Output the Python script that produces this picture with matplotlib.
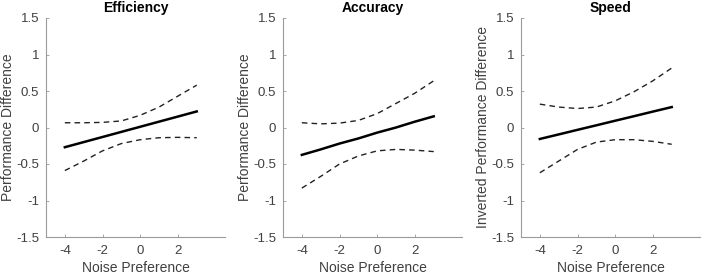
import matplotlib
matplotlib.use("Agg")
import matplotlib.pyplot as plt

x = [-4, -3, -2, -1, 0, 1, 2, 3]

titles = ["Efficiency", "Accuracy", "Speed"]
ylabels = ["Performance Difference", "Performance Difference", "Inverted Performance Difference"]

eff_fit = [-0.27, -0.20, -0.13, -0.06, 0.01, 0.08, 0.15, 0.22]
eff_upper = [0.065, 0.065, 0.07, 0.09, 0.167, 0.28, 0.43, 0.58]
eff_lower = [-0.59, -0.46, -0.32, -0.22, -0.167, -0.14, -0.135, -0.14]

acc_fit = [-0.375, -0.30, -0.22, -0.15, -0.07, 0.00, 0.08, 0.153]
acc_upper = [0.065, 0.05, 0.06, 0.097, 0.19, 0.33, 0.47, 0.64]
acc_lower = [-0.83, -0.67, -0.50, -0.39, -0.32, -0.30, -0.31, -0.33]

spd_fit = [-0.157, -0.095, -0.032, 0.03, 0.093, 0.155, 0.218, 0.28]
spd_upper = [0.32, 0.28, 0.26, 0.28, 0.365, 0.49, 0.64, 0.815]
spd_lower = [-0.62, -0.46, -0.30, -0.20, -0.167, -0.167, -0.19, -0.23]

fits = [eff_fit, acc_fit, spd_fit]
uppers = [eff_upper, acc_upper, spd_upper]
lowers = [eff_lower, acc_lower, spd_lower]

xticks = [-4, -2, 0, 2]
yticks = [-1.5, -1, -0.5, 0, 0.5, 1, 1.5]
yticklabels = ["-1.5", "-1", "-0.5", "0", "0.5", "1", "1.5"]

plt.rcParams['font.family'] = ['Liberation Sans', 'DejaVu Sans']

fig = plt.figure(figsize=(7.04, 2.76), dpi=100)
lefts = [46, 283, 521]
axis_col = "#9a9a9a"
text_col = "#404040"
for i in range(3):
    ax = fig.add_axes([lefts[i] / 704, 39 / 276, 179 / 704, 219 / 276])
    ax.plot(x, fits[i], color="black", lw=1.8)
    ax.plot(x, uppers[i], color="#222222", lw=1.0, ls=(0, (4, 3)))
    ax.plot(x, lowers[i], color="#222222", lw=1.0, ls=(0, (4, 3)))
    ax.set_xlim(-5, 4.5)
    ax.set_ylim(-1.5, 1.5)
    ax.set_xticks(xticks)
    ax.set_xticklabels([str(t) for t in xticks])
    ax.set_yticks(yticks)
    ax.set_yticklabels(yticklabels)
    for s in ["top", "right"]:
        ax.spines[s].set_visible(False)
    for s in ["left", "bottom"]:
        ax.spines[s].set_color(axis_col)
        ax.spines[s].set_linewidth(0.8)
    ax.tick_params(direction="in", length=2.5, width=0.6, color=axis_col,
                   labelcolor=text_col, labelsize=9.5)
    ax.tick_params(axis="x", pad=6)
    ax.tick_params(axis="y", pad=5)
    ax.set_xlabel("Noise Preference", fontsize=10, color=text_col, labelpad=3)
    ax.set_ylabel(ylabels[i], fontsize=10, color=text_col)
    ax.yaxis.set_label_coords(-31 / 179, 0.5)
    ax.set_title(titles[i], fontsize=10, fontweight="bold", color="black", pad=4)

fig.savefig("out.png", dpi=100)
